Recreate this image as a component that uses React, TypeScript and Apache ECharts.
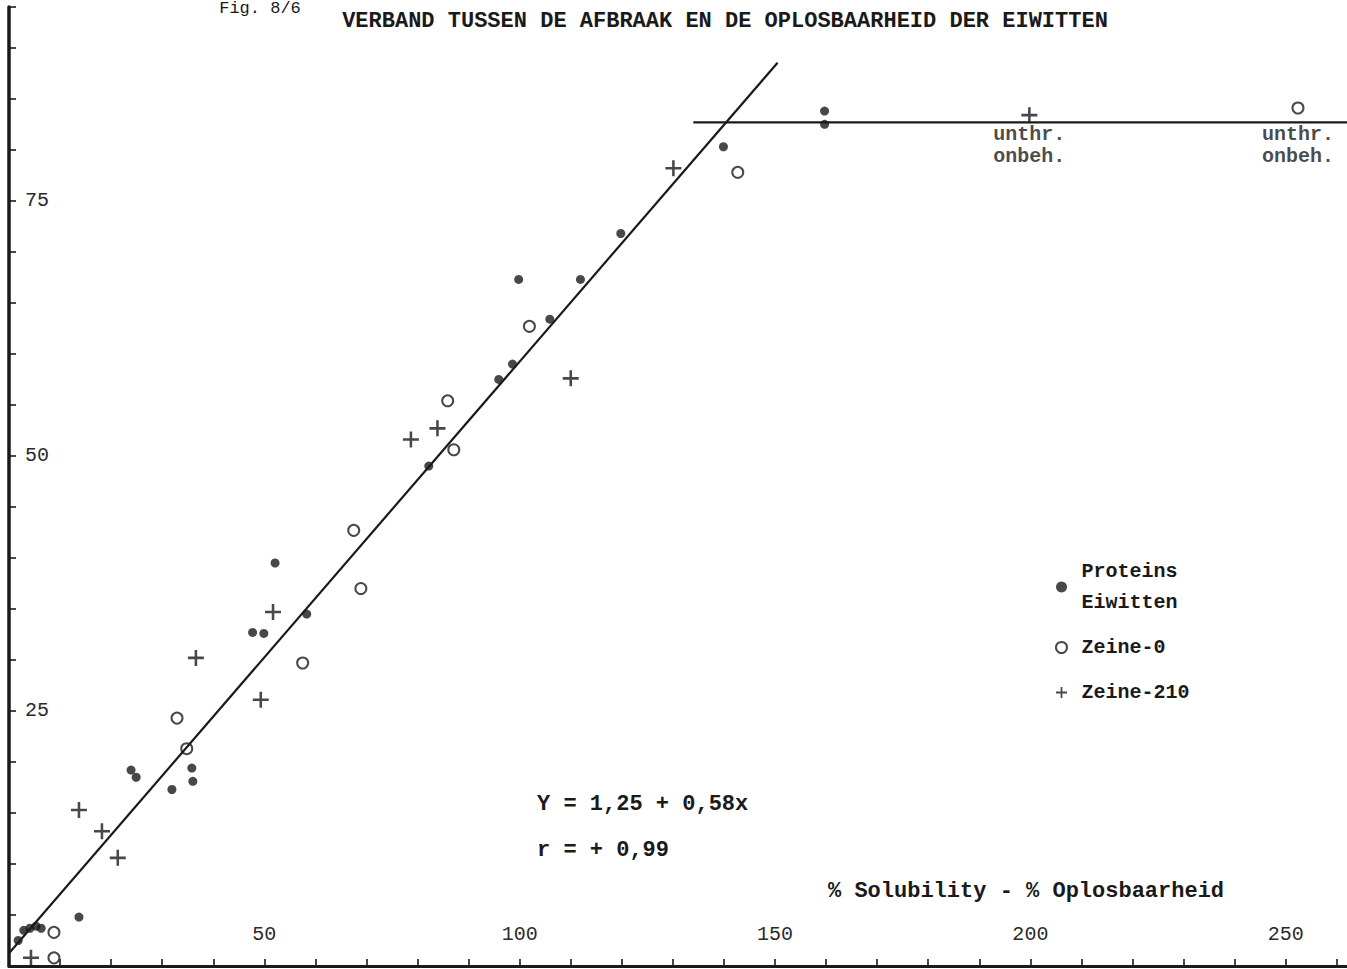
import React, { useEffect, useRef } from 'react';
import * as echarts from 'echarts';

const INK = '#1a1a1a';
const FONT = '"Liberation Mono", "DejaVu Sans Mono", monospace';

// Proteins / Eiwitten (filled dots): [solubility %, breakdown]
const proteins: [number, number][] = [
  [1.8, 2.5], [2.9, 3.5], [4.1, 3.7], [5.3, 3.9], [6.3, 3.7], [13.7, 4.8],
  [23.9, 19.2], [24.9, 18.5], [31.9, 17.3], [35.8, 19.4], [36.0, 18.1],
  [47.7, 32.7], [49.9, 32.6], [52.1, 39.5], [58.3, 34.5], [82.2, 49.0],
  [95.9, 57.5], [98.6, 59.0], [99.8, 67.3], [105.9, 63.4], [111.9, 67.3],
  [119.8, 71.8], [139.9, 80.3], [159.7, 83.8], [159.7, 82.5],
];

// Zeine-0 (open circles)
const zeine0: [number, number][] = [
  [8.8, 3.3], [8.8, 0.8], [32.9, 24.3], [34.8, 21.3], [57.5, 29.7],
  [67.5, 42.7], [68.9, 37.0], [85.9, 55.4], [87.1, 50.6], [101.9, 62.7],
  [142.7, 77.8], [252.4, 84.1],
];

// Zeine-210 (plus signs)
const zeine210: [number, number][] = [
  [4.3, 0.8], [13.7, 15.3], [18.2, 13.2], [21.3, 10.6], [36.6, 30.2],
  [49.3, 26.1], [51.7, 34.7], [78.7, 51.6], [83.9, 52.7], [110.0, 57.6],
  [130.1, 78.2], [199.8, 83.4],
];

// Regression Y = 1,25 + 0,58x
const regIntercept = 1.25;
const regSlope = 0.58;
const regXRange = [0, 150.5];

// Plateau line
const plateauY = 82.7;
const plateauXRange = [134, 262];

// untreated markers (x positions)
const untreatedX = [199.8, 252.4];

const xTickLabels = [50, 100, 150, 200, 250];
const yTickLabels = [25, 50, 75];

const PLUS = 'path://M4.2,0H5.8V4.2H10V5.8H5.8V10H4.2V5.8H0V4.2H4.2Z';

export default function App() {
  const ref = useRef<HTMLDivElement>(null);
  useEffect(() => {
    if (!ref.current) return;
    const chart = echarts.init(ref.current, null, { renderer: 'svg' });
    const regLine = regXRange.map((x) => [x, regIntercept + regSlope * x]);
    const plateau = plateauXRange.map((x) => [x, plateauY]);
    const untreated = untreatedX.map((x) => [x, plateauY]);
    chart.setOption({
      animation: false,
      backgroundColor: '#ffffff',
      grid: { left: 9, right: 0, top: 7, bottom: 3, containLabel: false },
      xAxis: {
        type: 'value',
        min: 0,
        max: 262,
        interval: 10,
        axisLine: { show: true, onZero: false, lineStyle: { color: INK, width: 3 } },
        axisTick: { show: true, inside: true, length: 7, lineStyle: { color: INK, width: 1.6 } },
        axisLabel: {
          inside: true,
          margin: 22,
          fontFamily: FONT,
          fontSize: 20,
          color: '#2a2a2a',
          showMinLabel: false,
          showMaxLabel: false,
          formatter: (v: number) => (xTickLabels.includes(v) ? String(v) : ''),
        },
        splitLine: { show: false },
      },
      yAxis: {
        type: 'value',
        min: 0,
        max: 94,
        interval: 5,
        axisLine: { show: true, onZero: false, lineStyle: { color: INK, width: 3.5 } },
        axisTick: { show: true, inside: true, length: 7, lineStyle: { color: INK, width: 1.6 } },
        axisLabel: {
          inside: true,
          margin: 16,
          fontFamily: FONT,
          fontSize: 20,
          color: '#2a2a2a',
          showMinLabel: false,
          formatter: (v: number) => (yTickLabels.includes(v) ? String(v) : ''),
        },
        splitLine: { show: false },
      },
      legend: {
        orient: 'vertical',
        left: 1050,
        top: 551,
        itemGap: 14,
        itemWidth: 30,
        itemHeight: 11,
        textStyle: { fontFamily: FONT, fontSize: 20, fontWeight: 'bold', color: INK, lineHeight: 31 },
        formatter: (n: string) => (n === 'Proteins' ? 'Proteins\nEiwitten' : n),
        data: [
          { name: 'Proteins', icon: 'circle' },
          { name: 'Zeine-0', icon: 'emptyCircle' },
          { name: 'Zeine-210', icon: PLUS },
        ],
      },
      series: [
        {
          name: 'regression',
          type: 'line',
          data: regLine,
          symbol: 'none',
          silent: true,
          lineStyle: { color: INK, width: 2.2 },
        },
        {
          name: 'plateau',
          type: 'line',
          data: plateau,
          symbol: 'none',
          silent: true,
          lineStyle: { color: INK, width: 2.2 },
        },
        {
          name: 'Proteins',
          type: 'scatter',
          data: proteins,
          symbol: 'circle',
          symbolSize: 9,
          itemStyle: { color: INK },
        },
        {
          name: 'Zeine-0',
          type: 'scatter',
          data: zeine0,
          symbol: 'emptyCircle',
          symbolSize: 11,
          itemStyle: { color: INK, borderColor: INK, borderWidth: 3 },
        },
        {
          name: 'Zeine-210',
          type: 'scatter',
          data: zeine210,
          symbol: PLUS,
          symbolSize: 16,
          itemStyle: { color: INK },
        },
        {
          name: 'untreated',
          type: 'scatter',
          data: untreated,
          symbolSize: 0,
          silent: true,
          label: {
            show: true,
            position: 'bottom',
            distance: 1,
            formatter: 'unthr.\nonbeh.',
            fontFamily: FONT,
            fontSize: 20,
            fontWeight: 'bold',
            lineHeight: 22,
            color: INK,
          },
        },
      ],
      graphic: [
        {
          type: 'text',
          x: 260,
          y: 8,
          style: { text: 'Fig. 8/6', font: `normal 17px ${FONT}`, fill: INK, align: 'center', verticalAlign: 'middle' },
        },
        {
          type: 'text',
          x: 725,
          y: 21,
          style: {
            text: 'VERBAND TUSSEN DE AFBRAAK EN DE OPLOSBAARHEID DER EIWITTEN',
            font: `bold 22px ${FONT}`,
            fill: INK,
            align: 'center',
            verticalAlign: 'middle',
          },
        },
        {
          type: 'text',
          x: 537,
          y: 804,
          style: { text: 'Y = 1,25 + 0,58x', font: `bold 22px ${FONT}`, fill: INK, align: 'left', verticalAlign: 'middle' },
        },
        {
          type: 'text',
          x: 537,
          y: 850,
          style: { text: 'r = + 0,99', font: `bold 22px ${FONT}`, fill: INK, align: 'left', verticalAlign: 'middle' },
        },
        {
          type: 'text',
          x: 828,
          y: 891,
          style: {
            text: '% Solubility - % Oplosbaarheid',
            font: `bold 22px ${FONT}`,
            fill: INK,
            align: 'left',
            verticalAlign: 'middle',
          },
        },
      ],
    });
    return () => chart.dispose();
  }, []);
  return <div ref={ref} style={{ position: 'absolute', left: 0, top: 0, width: 1347, height: 969 }} />;
}
